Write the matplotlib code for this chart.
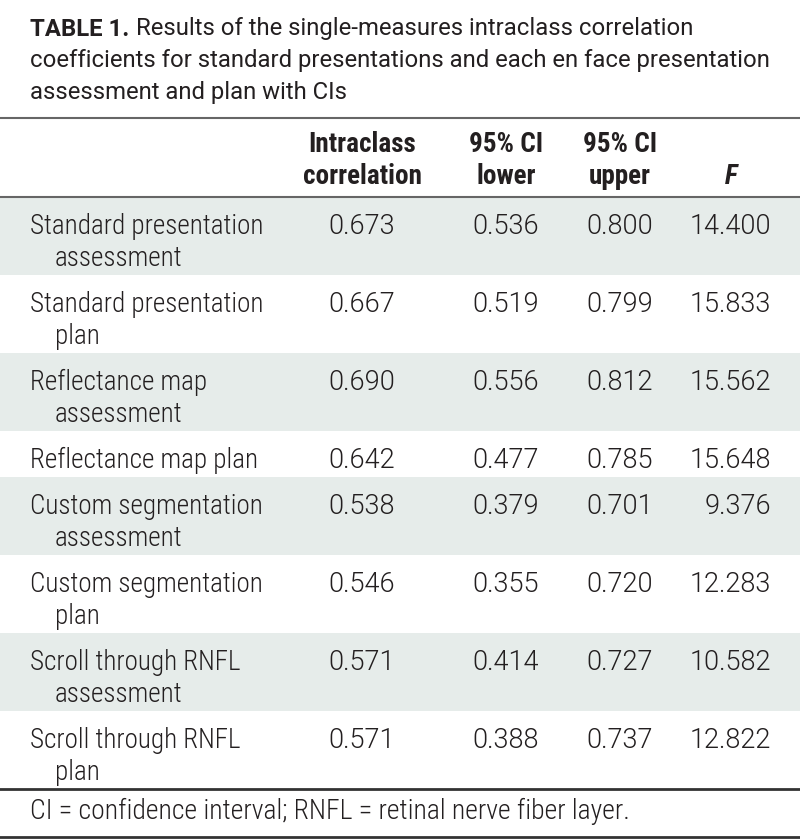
import matplotlib
matplotlib.use('Agg')
import matplotlib.pyplot as plt

plt.rcParams['font.family'] = ['Roboto Condensed', 'DejaVu Sans']

title_bold = 'TABLE 1.'
title_lines = ['Results of the single-measures intraclass correlation',
               'coefficients for standard presentations and each en face presentation',
               'assessment and plan with CIs']
headers = ['Intraclass\ncorrelation', '95% CI\nlower', '95% CI\nupper', 'F']
labels = ['Standard presentation\nassessment', 'Standard presentation\nplan',
          'Reflectance map\nassessment', 'Reflectance map plan',
          'Custom segmentation\nassessment', 'Custom segmentation\nplan',
          'Scroll through RNFL\nassessment', 'Scroll through RNFL\nplan']
icc = ['0.673', '0.667', '0.690', '0.642', '0.538', '0.546', '0.571', '0.571']
ci_lower = ['0.536', '0.519', '0.556', '0.477', '0.379', '0.355', '0.414', '0.388']
ci_upper = ['0.800', '0.799', '0.812', '0.785', '0.701', '0.720', '0.727', '0.737']
f_vals = ['14.400', '15.833', '15.562', '15.648', '9.376', '12.283', '10.582', '12.822']
footnote = 'CI = confidence interval; RNFL = retinal nerve fiber layer.'

ink = '#231f20'
shade = '#e6ecea'
fs = 19.5
nfam = ['Roboto', 'DejaVu Sans']   # digits are wider in the reference
nfs = 19.5
tfam = ['Roboto', 'DejaVu Sans']
tfs = 17.2

fig = plt.figure(figsize=(8, 8.4), dpi=100)
ax = fig.add_axes([0, 0, 1, 1])
ax.set_xlim(0, 800); ax.set_ylim(840, 0); ax.axis('off')

# title
t = ax.text(30, 29, title_bold, fontsize=tfs, fontweight='bold', family=tfam, color=ink, va='center')
fig.canvas.draw()
bb = t.get_window_extent().transformed(ax.transData.inverted())
ax.text(bb.x1 + 7, 29, title_lines[0], fontsize=tfs, family=tfam, color=ink, va='center')
for i, s in enumerate(title_lines[1:]):
    ax.text(30, 61 + 32 * i, s, fontsize=tfs, family=tfam, color=ink, va='center')

ax.plot([0, 800], [118, 118], color='#666666', lw=1.5)

# header
cols = [362, 506, 620]
for x, h in zip(cols, headers[:3]):
    a, b = h.split('\n')
    ax.text(x, 145, a, fontsize=fs, fontweight='bold', color=ink, ha='center', va='center')
    ax.text(x, 176, b, fontsize=fs, fontweight='bold', color=ink, ha='center', va='center')
ax.text(731, 176, headers[3], fontsize=fs, fontweight='bold', style='italic',
        color=ink, ha='center', va='center')
ax.plot([0, 800], [197, 197], color='#666666', lw=1.5)

# body
top = 197
for i, lab in enumerate(labels):
    parts = lab.split('\n')
    h = 14 + 32 * len(parts)
    if i % 2 == 0:
        ax.fill_between([0, 800], top, top + h, color=shade, lw=0)
    y0 = top + 29
    for j, p in enumerate(parts):
        ax.text(30 if j == 0 else 55, y0 + 32 * j, p, fontsize=fs, fontweight=300,
                color=ink, va='center')
    for x, v in zip(cols, [icc[i], ci_lower[i], ci_upper[i]]):
        ax.text(x, y0, v, fontsize=nfs, family=nfam, fontweight=300, color=ink,
                ha='center', va='center')
    ax.text(771, y0, f_vals[i], fontsize=nfs, family=nfam, fontweight=300, color=ink,
            ha='right', va='center')
    top += h

ax.plot([0, 800], [top, top], color='#333333', lw=2)
ax.text(30, top + 22, footnote, fontsize=20, fontweight=300, color=ink, va='center')
ax.plot([0, 800], [837, 837], color='#333333', lw=2)

fig.savefig('out.png', dpi=100)
